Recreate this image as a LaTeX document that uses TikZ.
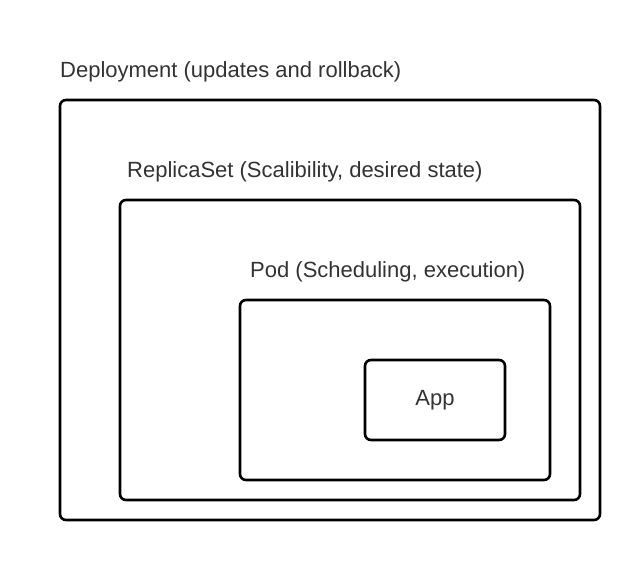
\documentclass[tikz,border=0pt]{standalone}
\usepackage{fontspec}
\setmainfont{Liberation Sans}
\begin{document}
\begin{tikzpicture}[x=1pt,y=1pt,
  box/.style={draw=black,line width=2.6pt,rounded corners=6pt,fill=white,outer sep=0pt},
  lbl/.style={anchor=base west,inner sep=0pt,text=black!80,font=\fontsize{22}{24}\selectfont}]
\useasboundingbox (0,0) rectangle (640,560);
\node[box,minimum width=540pt,minimum height=420pt,anchor=north west] (dep) at (60,460) {};
\node[box,minimum width=460pt,minimum height=300pt,anchor=north west] (rs) at (120,360) {};
\node[box,minimum width=310pt,minimum height=180pt,anchor=north west] (pod) at (240,260) {};
\node[box,minimum width=140pt,minimum height=80pt,anchor=north west,text=black!80,font=\fontsize{22}{24}\selectfont] (app) at (365,200) {App};
\node[lbl] (deplbl) at (60,482) {Deployment (updates and rollback)};
\node[lbl] (rslbl) at (127,382) {ReplicaSet (Scalibility, desired state)};
\node[lbl] (podlbl) at (250,282) {Pod (Scheduling, execution)};
\end{tikzpicture}
\end{document}
